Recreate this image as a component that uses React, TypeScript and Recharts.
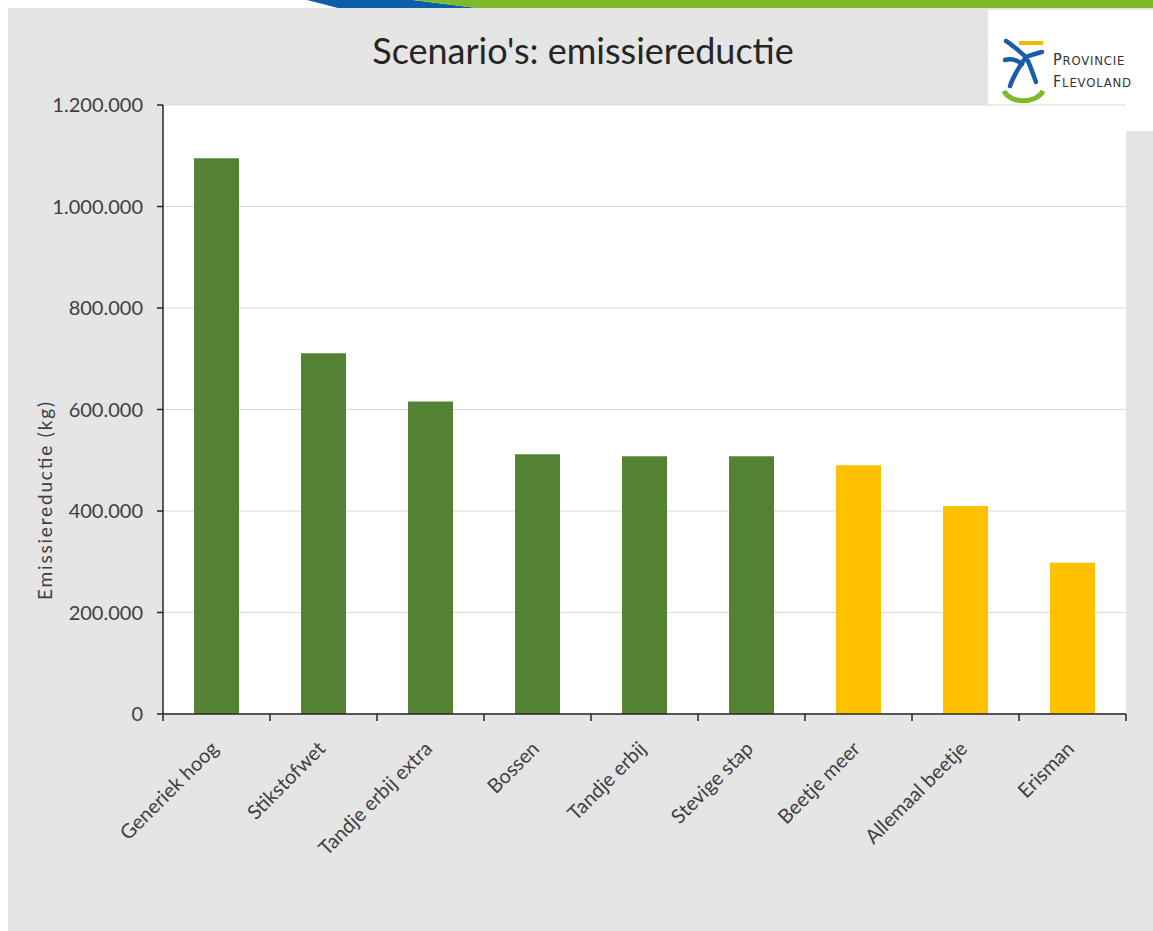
import React from 'react';
import { BarChart, Bar, XAxis, YAxis, CartesianGrid, Cell } from 'recharts';

const scenarios: string[] = [
  'Generiek hoog',
  'Stikstofwet',
  'Tandje erbij extra',
  'Bossen',
  'Tandje erbij',
  'Stevige stap',
  'Beetje meer',
  'Allemaal beetje',
  'Erisman',
];

const reduction: number[] = [1095000, 711000, 616000, 512000, 508000, 508000, 490000, 410000, 298000];

const barGroup: string[] = ['green', 'green', 'green', 'green', 'green', 'green', 'yellow', 'yellow', 'yellow'];

const yTicks: number[] = [0, 200000, 400000, 600000, 800000, 1000000, 1200000];

const colors: Record<string, string> = { green: '#548235', yellow: '#FFC000' };

const data = scenarios.map((name, i) => ({ name, value: reduction[i], group: barGroup[i] }));

const W = 1153;
const H = 931;
const PLOT_LEFT = 163;
const PLOT_RIGHT = 1126;
const PLOT_TOP = 105;
const PLOT_BOTTOM = 714;
const X_AXIS_H = 30;
const BAND = (PLOT_RIGHT - PLOT_LEFT) / scenarios.length;

const FONT = 'Lato, "Open Sans", sans-serif';

const dotted = (v: number) => String(v).replace(/\B(?=(\d{3})+(?!\d))/g, '.');

const XTick = (props: any) => {
  const { x, y, payload, index } = props;
  const left = x - BAND / 2;
  const tx = x + 3;
  const ty = y + 36;
  return (
    <g>
      <line x1={left} y1={y} x2={left} y2={y + 7} stroke="#262626" strokeWidth={1.5} />
      {index === scenarios.length - 1 && (
        <line x1={x + BAND / 2} y1={y} x2={x + BAND / 2} y2={y + 7} stroke="#262626" strokeWidth={1.5} />
      )}
      <text
        x={tx}
        y={ty}
        transform={`rotate(-45 ${tx} ${ty})`}
        textAnchor="end"
        fontSize={20}
        fontFamily={FONT}
        fill="#404040"
      >
        {payload.value}
      </text>
    </g>
  );
};

const Decor = () => (
  <svg width={W} height={H} style={{ position: 'absolute', left: 0, top: 0 }}>
    <rect x={0} y={0} width={W} height={H} fill="#ffffff" />
    <rect x={8} y={8} width={W - 8} height={H - 8} fill="#e5e5e5" />
    {/* top banner strip */}
    <polygon points="307,0 413,0 477,8 338,8" fill="#0b5ea8" />
    <polygon points="413,0 1153,0 1153,8 477,8" fill="#7db928" />
    {/* logo box */}
    <rect x={988} y={10} width={W - 988} height={121} fill="#ffffff" />
    <rect x={1019} y={41} width={24} height={4} fill="#f5b800" />
    <g fill="none" stroke="#1a5ca8" strokeWidth={4.5} strokeLinecap="round">
      <path d="M1006,41 C1014,46 1020,52 1026,57 C1032,55 1037,53 1042,52" />
      <path d="M1005,60 C1011,58 1017,60 1022,64" />
      <path d="M1026,57 C1020,66 1014,74 1010,86" />
      <path d="M1028,61 C1031,68 1033,74 1036,82" />
    </g>
    <path d="M1004,91 C1010,104 1036,104 1043,91" fill="none" stroke="#7db928" strokeWidth={5} />
    <text x={1053} y={65} fontFamily='"DejaVu Sans Condensed", "DejaVu Sans", sans-serif' fill="#333333" fontSize={13} letterSpacing={0.8}>
      <tspan fontSize={16}>P</tspan>ROVINCIE
    </text>
    <text x={1053} y={87} fontFamily='"DejaVu Sans Condensed", "DejaVu Sans", sans-serif' fill="#333333" fontSize={13} letterSpacing={0.8}>
      <tspan fontSize={16}>F</tspan>LEVOLAND
    </text>
    {/* title */}
    <text x={583} y={64} textAnchor="middle" fontFamily={FONT} fontSize={36} fill="#262626">
      Scenario's: emissiereductie
    </text>
    {/* y-axis title */}
    <text
      x={52}
      y={501}
      transform="rotate(-90 52 501)"
      textAnchor="middle"
      fontFamily={FONT}
      fontSize={19}
      textLength={198}
      fill="#404040"
    >
      Emissiereductie (kg)
    </text>
  </svg>
);

const App: React.FC = () => {
  return (
    <div style={{ position: 'absolute', left: 0, top: 0, width: W, height: H }}>
      <Decor />
      <div style={{ position: 'absolute', left: 0, top: 0 }}>
        <BarChart
          width={W}
          height={H}
          data={data}
          margin={{ top: PLOT_TOP, right: W - PLOT_RIGHT, bottom: H - PLOT_BOTTOM - X_AXIS_H, left: 0 }}
          barCategoryGap="29%"
        >
          <CartesianGrid vertical={false} stroke="#d9d9d9" fill="#ffffff" />
          <XAxis
            dataKey="name"
            interval={0}
            height={X_AXIS_H}
            tickSize={0}
            tickMargin={0}
            tickLine={false}
            axisLine={{ stroke: '#262626', strokeWidth: 1.5 }}
            tick={<XTick />}
          />
          <YAxis
            width={PLOT_LEFT}
            domain={[0, 1200000]}
            ticks={yTicks}
            tickFormatter={dotted}
            tickSize={6}
            tickMargin={14}
            interval={0}
            axisLine={{ stroke: '#262626', strokeWidth: 1.5 }}
            tickLine={{ stroke: '#262626', strokeWidth: 1.5 }}
            tick={{ fontSize: 20, fontFamily: FONT, fill: '#404040' }}
          />
          <Bar dataKey="value" isAnimationActive={false}>
            {data.map((d, i) => (
              <Cell key={i} fill={colors[d.group]} />
            ))}
          </Bar>
        </BarChart>
      </div>
    </div>
  );
};

export default App;
